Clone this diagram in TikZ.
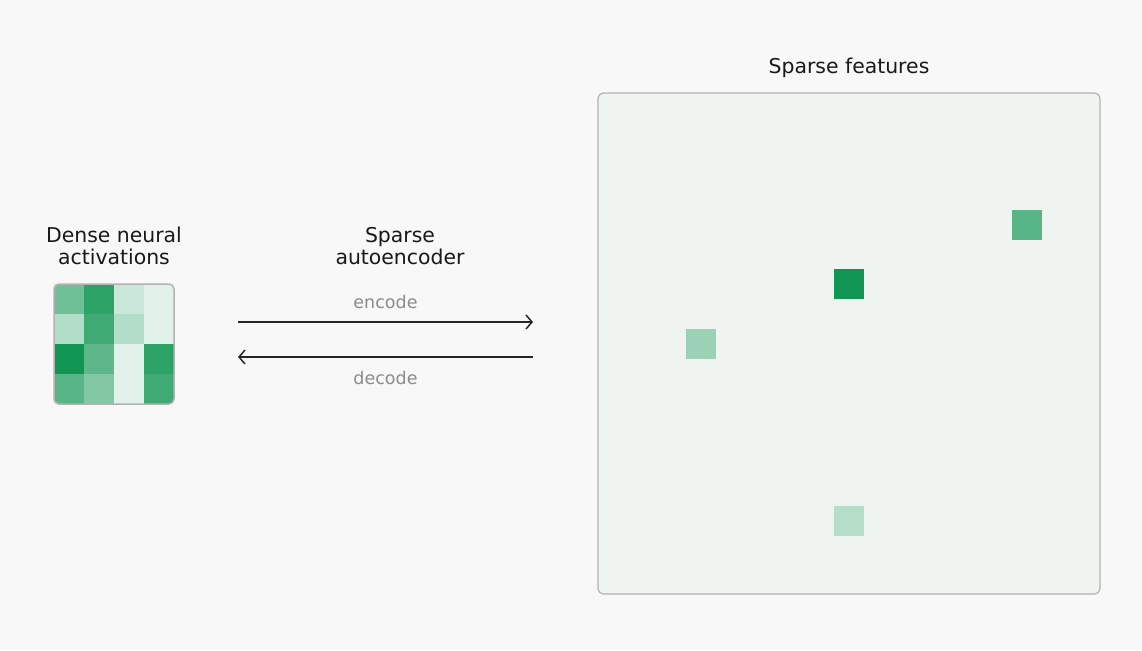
\documentclass[tikz,border=0pt]{standalone}
\usepackage{fontspec}
\setmainfont{DejaVu Sans}
\usetikzlibrary{arrows.meta}

\definecolor{saegreen}{HTML}{109552}
\definecolor{panelfill}{HTML}{EFF4F0}
\definecolor{pagebg}{HTML}{F8F8F8}
\definecolor{framegray}{HTML}{B2B2B2}
\definecolor{labelgray}{HTML}{8C8C8C}

\begin{document}
\begin{tikzpicture}[x=1pt,y=-1pt,
    heading/.style={font=\fontsize{20.4}{22}\selectfont, align=center, inner sep=0pt, text=black!90},
    steplabel/.style={font=\fontsize{17.5}{20}\selectfont, text=labelgray, inner sep=0pt},
    flow/.style={line width=1.5pt, black!85, -{Straight Barb[length=6pt,width=14pt]}},
    cell/.style={minimum size=30, inner sep=0pt, outer sep=0pt}]

    % page background fixes the size
    \fill[pagebg] (0,0) rectangle (1142,650);

    % headings
    \node[heading] (denseTitle) at (114,246) {Dense neural\\activations};
    \node[heading] (saeTitle) at (400,246) {Sparse\\autoencoder};
    \node[heading] (featTitle) at (849,68) {Sparse features};

    % dense activations grid
    \begin{scope}
        \clip[rounded corners=5pt] (54,284) rectangle (174,404);
        \foreach \v [count=\i from 0] in {60,88,22,12, 32,80,32,12, 100,68,12,88, 70,52,12,80} {
            \pgfmathtruncatemacro\col{mod(\i,4)}
            \pgfmathtruncatemacro\row{div(\i,4)}
            \fill[saegreen!\v!white] (54+30*\col, 284+30*\row) rectangle ++(30,30);
        }
    \end{scope}
    \node[draw=framegray, line width=1.5pt, rounded corners=5pt, minimum size=120, inner sep=0pt] (dense) at (114,344) {};

    % sparse feature panel
    \node[draw=framegray, fill=panelfill, line width=1.2pt, rounded corners=6pt,
          minimum width=502, minimum height=501, inner sep=0pt] (features) at (849,343.5) {};
    \foreach \x/\y/\v [count=\k] in {1027/225/70, 849/284/100, 701/344/42, 849/521/31} {
        \node[cell, fill=saegreen!\v!white] (f\k) at (\x,\y) {};
    }

    % encode / decode arrows
    \coordinate (encA) at (238,322);
    \coordinate (encB) at (533,322);
    \coordinate (decA) at (533,357);
    \coordinate (decB) at (238,357);
    \draw[flow] (encA) -- (encB) node[steplabel, midway, above=13pt] (encLabel) {encode};
    \draw[flow] (decA) -- (decB) node[steplabel, midway, below=13pt] (decLabel) {decode};
\end{tikzpicture}
\end{document}
